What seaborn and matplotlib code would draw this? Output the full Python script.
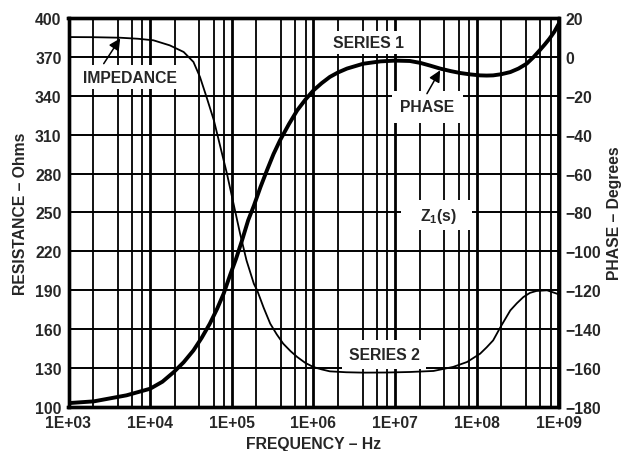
import numpy as np
import pandas as pd
import matplotlib
matplotlib.use("Agg")
import matplotlib.pyplot as plt
from matplotlib.ticker import LogLocator, NullFormatter, FixedLocator
import seaborn as sns

# ---- data -------------------------------------------------------------
# log10 of frequency (Hz) and impedance magnitude (Ohms), series 2
imp_log_freq = [3.0, 3.3, 3.63, 3.85, 4.04, 4.24, 4.41, 4.53, 4.61, 4.69, 4.78,
                4.86, 4.94, 5.02, 5.10, 5.18, 5.27, 5.31, 5.39, 5.47, 5.55,
                5.63, 5.72, 5.80, 5.90, 6.0, 6.1, 6.2, 6.4, 6.61, 6.9, 7.18,
                7.47, 7.71, 7.88, 8.04, 8.12, 8.20, 8.29, 8.41, 8.49, 8.57,
                8.65, 8.73, 8.86, 8.98, 9.0]
imp_ohms = [385.3, 385.2, 384.8, 384, 382.8, 378.9, 373.8, 366.1, 354.5, 339.1,
            321.1, 300.5, 280, 257, 234, 213, 195, 190, 176.5, 164.3, 156,
            148.8, 143, 138.6, 134, 130.8, 129, 127.5, 126.8, 126.5, 126.6,
            127, 127.8, 130.9, 134.7, 141.1, 146, 151.4, 161.7, 174.5, 180,
            184.8, 188, 189.5, 190, 187.4, 187]

# log10 of frequency (Hz) and phase (degrees), series 1
phase_log_freq = [3.0, 3.31, 3.71, 4.0, 4.15, 4.29, 4.41, 4.53, 4.63, 4.73, 4.82,
                  4.90, 4.98, 5.05, 5.12, 5.20, 5.27, 5.35, 5.43, 5.51, 5.59,
                  5.70, 5.80, 5.90, 6.0, 6.10, 6.20, 6.30, 6.41, 6.61, 6.82,
                  7.0, 7.18, 7.31, 7.43, 7.55, 7.68, 7.80, 7.92, 8.04, 8.12,
                  8.20, 8.30, 8.41, 8.51, 8.61, 8.69, 8.77, 8.83, 8.89, 8.95, 9.0]
phase_deg = [-178, -177.1, -174, -170.6, -167, -162, -157, -150.9, -144.5, -137.2,
             -129.5, -121.7, -112, -104, -95, -84, -76.5, -67, -58.3, -50, -42.9,
             -34.5, -27.5, -22, -17.2, -13.5, -10.3, -8, -6.0, -3.5, -2.3,
             -1.9, -2.1, -3.1, -4.5, -6.0, -7.3, -8.3, -9.0, -9.5, -9.6,
             -9.5, -8.9, -7.8, -6.0, -3.5, -0.3, 3.4, 6.3, 9.4, 13, 16.8]

freq_ticks = [1e3, 1e4, 1e5, 1e6, 1e7, 1e8, 1e9]
freq_tick_labels = ["1E+03", "1E+04", "1E+05", "1E+06", "1E+07", "1E+08", "1E+09"]
res_ticks = [100, 130, 160, 190, 220, 250, 280, 310, 340, 370, 400]
phase_ticks = [-180, -160, -140, -120, -100, -80, -60, -40, -20, 0, 20]
phase_tick_labels = ["\u2212180", "\u2212160", "\u2212140", "\u2212120", "\u2212100",
                     "\u221280", "\u221260", "\u221240", "\u221220", "0", "20"]

imp_df = pd.DataFrame({"freq": 10.0 ** np.array(imp_log_freq), "ohms": imp_ohms})
phase_df = pd.DataFrame({"freq": 10.0 ** np.array(phase_log_freq), "deg": phase_deg})

# ---- style ------------------------------------------------------------
sns.set_theme(style="white")
plt.rcParams["font.family"] = ["Liberation Sans", "DejaVu Sans"]
plt.rcParams["font.weight"] = "bold"
plt.rcParams["mathtext.fontset"] = "custom"
plt.rcParams["mathtext.rm"] = "Liberation Sans:bold"
plt.rcParams["mathtext.bf"] = "Liberation Sans:bold"

FS = 11.3
fig = plt.figure(figsize=(6.24, 4.52), dpi=100)
ax = fig.add_axes([68.5 / 624, 1 - 408 / 452, (558.5 - 68.5) / 624, (408 - 19) / 452])
ax.set_xscale("log")
ax.set_xlim(1e3, 1e9)
ax.set_ylim(100, 400)

# grid: decades thicker, minor lines at 2, 4, 6, 8
ax.xaxis.set_major_locator(FixedLocator(freq_ticks))
ax.xaxis.set_minor_locator(LogLocator(base=10, subs=[2, 4, 6, 8], numticks=20))
ax.xaxis.set_minor_formatter(NullFormatter())
ax.set_xticks(freq_ticks)
ax.set_xticklabels(freq_tick_labels)
ax.set_yticks(res_ticks)
ax.set_yticklabels([str(v) for v in res_ticks])
ax.grid(True, which="major", axis="x", color="black", linewidth=2.0)
ax.grid(True, which="minor", axis="x", color="black", linewidth=1.3)
ax.grid(True, which="major", axis="y", color="black", linewidth=1.4)
ax.set_axisbelow(True)
ax.tick_params(axis="both", which="both", length=0, labelsize=FS)
ax.tick_params(axis="x", pad=6)
ax.tick_params(axis="y", pad=5)

sns.lineplot(data=imp_df, x="freq", y="ohms", ax=ax, color="black",
             linewidth=1.3, estimator=None, sort=False)

ax.set_xlabel("FREQUENCY \u2013 Hz", fontsize=FS, fontweight="bold", labelpad=4)
ax.set_ylabel("RESISTANCE \u2013 Ohms", fontsize=FS, fontweight="bold", labelpad=5)

ax2 = ax.twinx()
ax2.set_ylim(-180, 20)
ax2.set_yticks(phase_ticks)
ax2.set_yticklabels(phase_tick_labels)
ax2.tick_params(axis="y", length=0, labelsize=FS, pad=5)
sns.lineplot(data=phase_df, x="freq", y="deg", ax=ax2, color="black",
             linewidth=2.8, estimator=None, sort=False)
ax2.set_ylabel("")
ax2.set_xlim(1e3, 1e9)
fig.text(615 / 624, 1 - 213.5 / 452, "PHASE \u2013 Degrees", rotation=90,
         ha="center", va="center", fontsize=FS, fontweight="bold")

for a in (ax, ax2):
    for s in a.spines.values():
        s.set_color("black")
        s.set_linewidth(2.4)

def label(x, y, s, pad=3):
    ax.text(x, y, s, ha="center", va="center", fontsize=FS, fontweight="bold",
            bbox=dict(facecolor="white", edgecolor="none", pad=pad), zorder=5)

label(5.6e3, 354.4, "IMPEDANCE")
label(4.67e6, 381.0, "SERIES 1")
label(2.47e7, 331.5, "PHASE", pad=6)
label(3.2e7, 247.9, r"   Z$_\mathbf{1}$(s)   ", pad=4)
label(7.3e6, 140.5, "SERIES 2", pad=5)

arrow = dict(arrowstyle="-|>", color="black", lw=1.1, mutation_scale=17,
             shrinkA=0, shrinkB=0)
ax.annotate("", xy=(4.3e3, 384.3), xytext=(2.7e3, 364.8), arrowprops=arrow, zorder=6)
ax2.annotate("", xy=(3.55e7, -6.9), xytext=(2.45e7, -18.9), arrowprops=arrow, zorder=6)

fig.savefig("out.png", dpi=100)
